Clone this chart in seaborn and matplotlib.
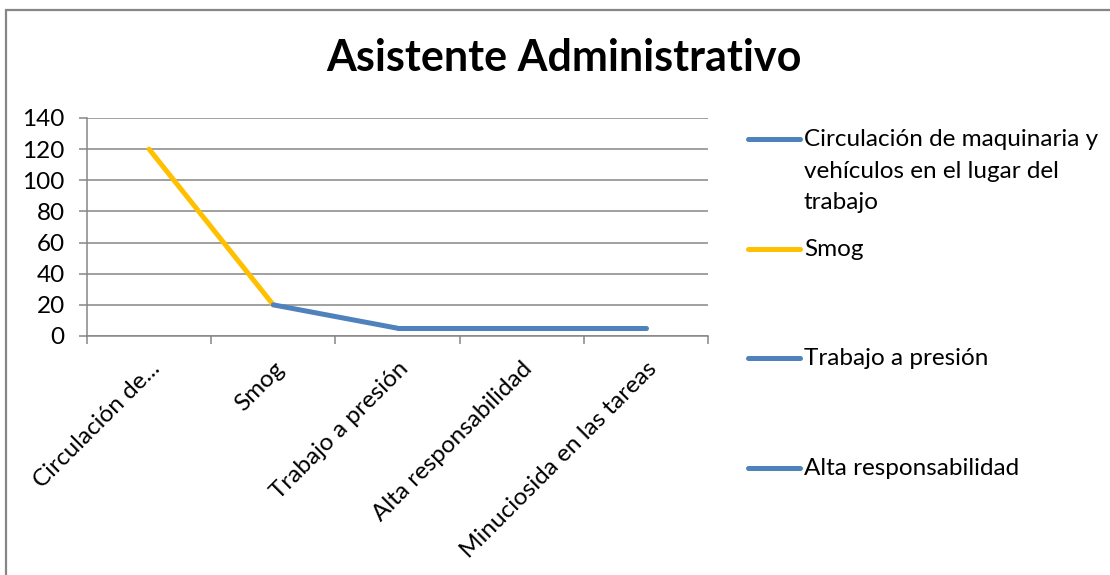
import matplotlib
matplotlib.use('Agg')
import matplotlib.pyplot as plt
import seaborn as sns
from matplotlib.lines import Line2D
from matplotlib.patches import Rectangle

# datos
categorias = ['Circulación de...', 'Smog', 'Trabajo a presión',
              'Alta responsabilidad', 'Minuciosida en las tareas']
valores = [120, 20, 5, 5, 5]
colores_punto = ['#4F81BD', '#FFC000', '#4F81BD', '#4F81BD', '#4F81BD']
leyenda = ['Circulación de maquinaria y\nvehículos en el lugar del\ntrabajo',
           'Smog', 'Trabajo a presión', 'Alta responsabilidad']
y_ticks = [0, 20, 40, 60, 80, 100, 120, 140]

sns.set_style('white')
plt.rcParams['font.family'] = ['Lato', 'DejaVu Sans']
plt.rcParams['text.color'] = 'black'
plt.rcParams['xtick.labelcolor'] = 'black'
plt.rcParams['ytick.labelcolor'] = 'black'

W, H = 1110, 575
fig = plt.figure(figsize=(W / 100, H / 100), dpi=100)
ax = fig.add_axes([87 / W, 1 - 336 / H, (708 - 87) / W, (336 - 118) / H])

gris = '#868686'

# cada tramo toma el color del punto al que llega
for i in range(1, len(valores)):
    sns.lineplot(x=[i - 1, i], y=[valores[i - 1], valores[i]],
                 color=colores_punto[i], linewidth=3.6, ax=ax,
                 solid_capstyle='round')

ax.set_xlim(-0.5, len(categorias) - 0.5)
ax.set_ylim(0, 140)
ax.set_yticks(y_ticks)
ax.set_yticklabels([str(v) for v in y_ticks], fontsize=17.5)
ax.yaxis.grid(True, color=gris, linewidth=1.1)
ax.set_axisbelow(True)

ax.set_xticks(range(len(categorias)))
ax.set_xticklabels(categorias, fontsize=17.5, rotation=45, ha='right',
                   va='top', rotation_mode='anchor')
ax.set_xticks([i - 0.5 for i in range(len(categorias) + 1)], minor=True)
ax.tick_params(axis='x', which='major', length=0, pad=16)
ax.tick_params(axis='x', which='minor', length=6, width=1.1, color=gris,
               direction='out', bottom=True)
ax.tick_params(axis='y', length=6, width=1.1, color=gris, direction='out',
               left=True, pad=10)

for lado in ['top', 'right']:
    ax.spines[lado].set_visible(False)
for lado in ['left', 'bottom']:
    ax.spines[lado].set_color(gris)
    ax.spines[lado].set_linewidth(1.1)
ax.set_xlabel('')
ax.set_ylabel('')

fig.text(564 / W, 1 - 58 / H, 'Asistente Administrativo', fontsize=31,
         fontweight='bold', ha='center', va='center')

# leyenda
ys = [139, 249, 358, 468]
for lab, col, yy in zip(leyenda, colores_punto[:4], ys):
    fy = 1 - yy / H
    fig.add_artist(Line2D([748 / W, 800 / W], [fy, fy], color=col,
                          linewidth=3.6, solid_capstyle='round'))
    fig.text(804 / W, fy + 10 / H, lab, fontsize=17.5, ha='left', va='top',
             linespacing=1.62)

# borde del gráfico
fig.add_artist(Rectangle((6 / W, -0.1), 1.2, 1 - 10 / H + 0.1,
                         fill=False, edgecolor=gris, linewidth=1.6,
                         transform=fig.transFigure))

fig.savefig('out.png', dpi=100)
